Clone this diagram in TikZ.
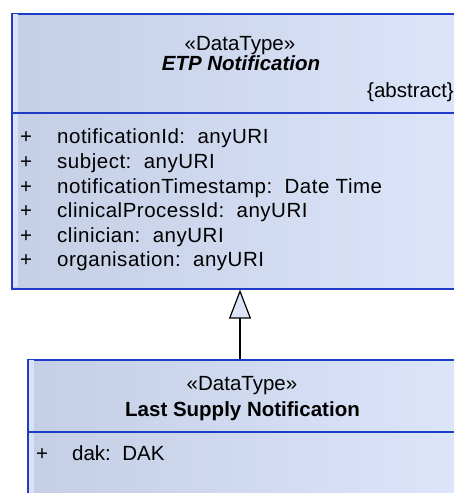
\documentclass[tikz,border=0pt]{standalone}
\usepackage{fontspec}
\setmainfont{Liberation Sans}
\newfontfamily\attrfont[LetterSpace=2.5]{Liberation Sans}
\usetikzlibrary{arrows.meta}
\definecolor{umlborder}{HTML}{1E3CC8}
\definecolor{fillleft}{HTML}{C4CEE4}
\definecolor{fillright}{HTML}{DDE6FB}
\definecolor{strip}{HTML}{D9E2F8}
\definecolor{trifill}{HTML}{DCE5F8}
\tikzset{
  umlbox/.style={rectangle, draw=umlborder, line width=1.6pt, left color=fillleft, right color=fillright, inner sep=0pt, anchor=north west},
  stripbox/.style={rectangle, fill=strip, inner sep=0pt, anchor=north west},
  sepline/.style={draw=umlborder, line width=1.6pt},
  txt/.style={inner sep=0pt, font=\fontsize{20.5}{24}\selectfont},
  attr/.style={inner sep=0pt, anchor=base west, font=\attrfont\fontsize{20.5}{24}\selectfont},
  generalization/.style={draw=black, line width=1.2pt, -{Triangle[length=29pt, width=22pt, fill=trifill, line width=1.2pt]}}
}
\begin{document}
\begin{tikzpicture}[x=1pt, y=-1pt]
\useasboundingbox (0,0) rectangle (454,493);
\clip (0,0) rectangle (454,493);
% top class
\node[umlbox, minimum width=470pt, minimum height=275pt] (etp) at (11,13) {};
\node[stripbox, minimum width=5pt, minimum height=273pt] (etpstrip) at (12.5,14) {};
\draw[sepline] (11,113) coordinate (etpsepl) -- (481,113) coordinate (etpsepr);
\node[txt, anchor=base] (etpst) at (240,50) {«DataType»};
\node[txt, anchor=base, font=\fontsize{20.5}{24}\selectfont\bfseries\itshape] (etpname) at (241,70) {ETP Notification};
\node[txt, anchor=base east] (etpabs) at (454,97) {\{abstract\}};
\foreach \y/\n/\t [count=\i] in {143/notificationId/anyURI, 168/subject/anyURI, 193/notificationTimestamp/Date Time, 217/clinicalProcessId/anyURI, 242/clinician/anyURI, 266/organisation/anyURI}{
  \node[attr] (plus\i) at (20,\y) {+};
  \node[attr] (attr\i) at (57,\y) {\n:\ \ \t};
}
% bottom class
\node[umlbox, minimum width=450pt, minimum height=160pt] (lsn) at (27,359) {};
\node[stripbox, minimum width=5pt, minimum height=158pt] (lsnstrip) at (28.5,360) {};
\draw[sepline] (27,432) coordinate (lsnsepl) -- (481,432) coordinate (lsnsepr);
\node[txt, anchor=base] (lsnst) at (242,390) {«DataType»};
\node[txt, anchor=base, font=\fontsize{20.5}{24}\selectfont\bfseries] (lsnname) at (242.5,416) {Last Supply Notification};
\node[txt, anchor=base west] (lsnplus) at (36,460) {+};
\node[txt, anchor=base west] (lsnattr) at (72,460) {dak:\ \ DAK};
% generalization
\draw[generalization] (lsn.north -| 240,0) -- (etp.south -| 240,0);
\end{tikzpicture}
\end{document}
